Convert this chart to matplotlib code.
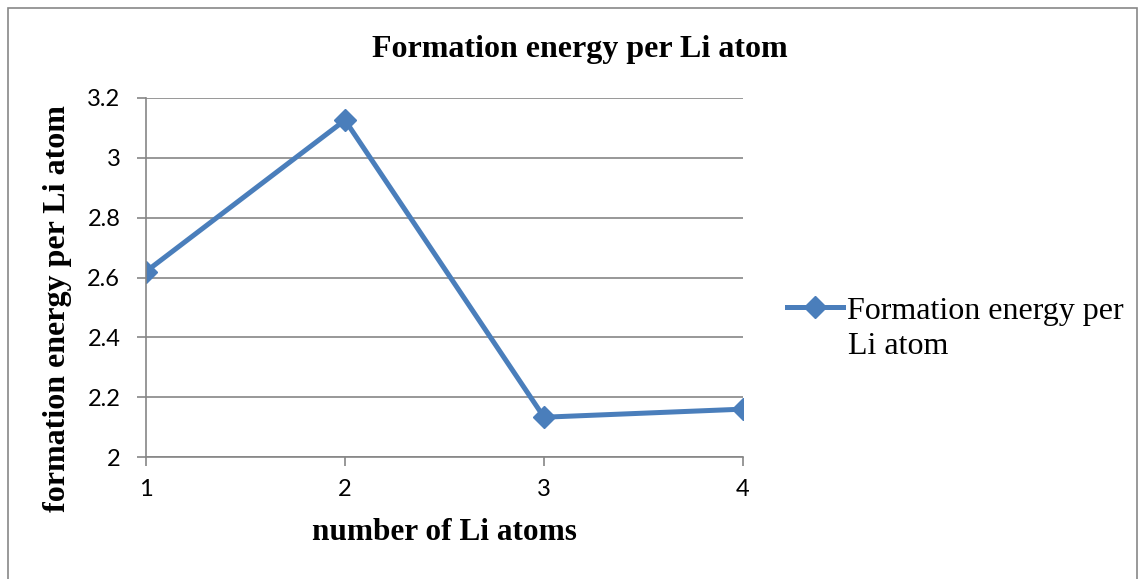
import matplotlib.pyplot as plt
from matplotlib.patches import Rectangle

n_atoms = [1, 2, 3, 4]
energy = [2.62, 3.126, 2.133, 2.16]
y_ticks = [2, 2.2, 2.4, 2.6, 2.8, 3, 3.2]
y_labels = ['2', '2.2', '2.4', '2.6', '2.8', '3', '3.2']

blue = '#4a7ebb'
grid = '#868686'
W, H = 1142, 579

fig = plt.figure(figsize=(11.42, 5.79), dpi=100)
ax = fig.add_axes([146 / W, 1 - 457 / H, (743 - 146) / W, (457 - 98) / H])

# outer chart border
fig.patches.append(Rectangle((8 / W, -0.02), (1137 - 8) / W, 1.02 - 8 / H,
                             transform=fig.transFigure, fill=False,
                             edgecolor='#878787', lw=1.2))

ax.plot(n_atoms, energy, color=blue, lw=3.6, marker='D', markersize=11,
        label='Formation energy per')

ax.set_xlim(1, 4)
ax.set_ylim(2, 3.2)
ax.set_xticks(n_atoms)
ax.set_yticks(y_ticks)
ax.set_yticklabels(y_labels)
ax.yaxis.grid(True, color=grid, lw=1.2)
ax.set_axisbelow(True)
for s in ['top', 'right']:
    ax.spines[s].set_visible(False)
for s in ['left', 'bottom']:
    ax.spines[s].set_color(grid)
    ax.spines[s].set_linewidth(1.2)
ax.tick_params(colors=grid, labelcolor='black', labelsize=17, length=6.5,
               width=1.2, direction='out')
for lab in ax.get_xticklabels() + ax.get_yticklabels():
    lab.set_family('Lato')
ax.tick_params(axis='y', pad=12)
ax.tick_params(axis='x', pad=9)

serif = 'Liberation Serif'
fig.text(580 / W, 1 - 50 / H, 'Formation energy per Li atom', family=serif,
         fontweight='bold', fontsize=23, ha='center', va='center')
fig.text(444 / W, 1 - 533 / H, 'number of Li atoms', family=serif,
         fontweight='bold', fontsize=22.5, ha='center', va='center')
fig.text(58 / W, 1 - 309 / H, 'formation energy per Li atom', family=serif,
         fontweight='bold', fontsize=23, ha='center', va='center',
         rotation=90)

ax.legend(loc='center left', bbox_to_anchor=(787 / W, 1 - 311 / H),
          bbox_transform=fig.transFigure, frameon=False,
          prop={'family': serif, 'size': 23}, handlelength=1.75,
          handletextpad=0.12, borderaxespad=0, borderpad=0)
fig.text(848 / W, 1 - 347 / H, 'Li atom', family=serif, fontsize=23,
         ha='left', va='center')

fig.savefig('out.png', dpi=100)
